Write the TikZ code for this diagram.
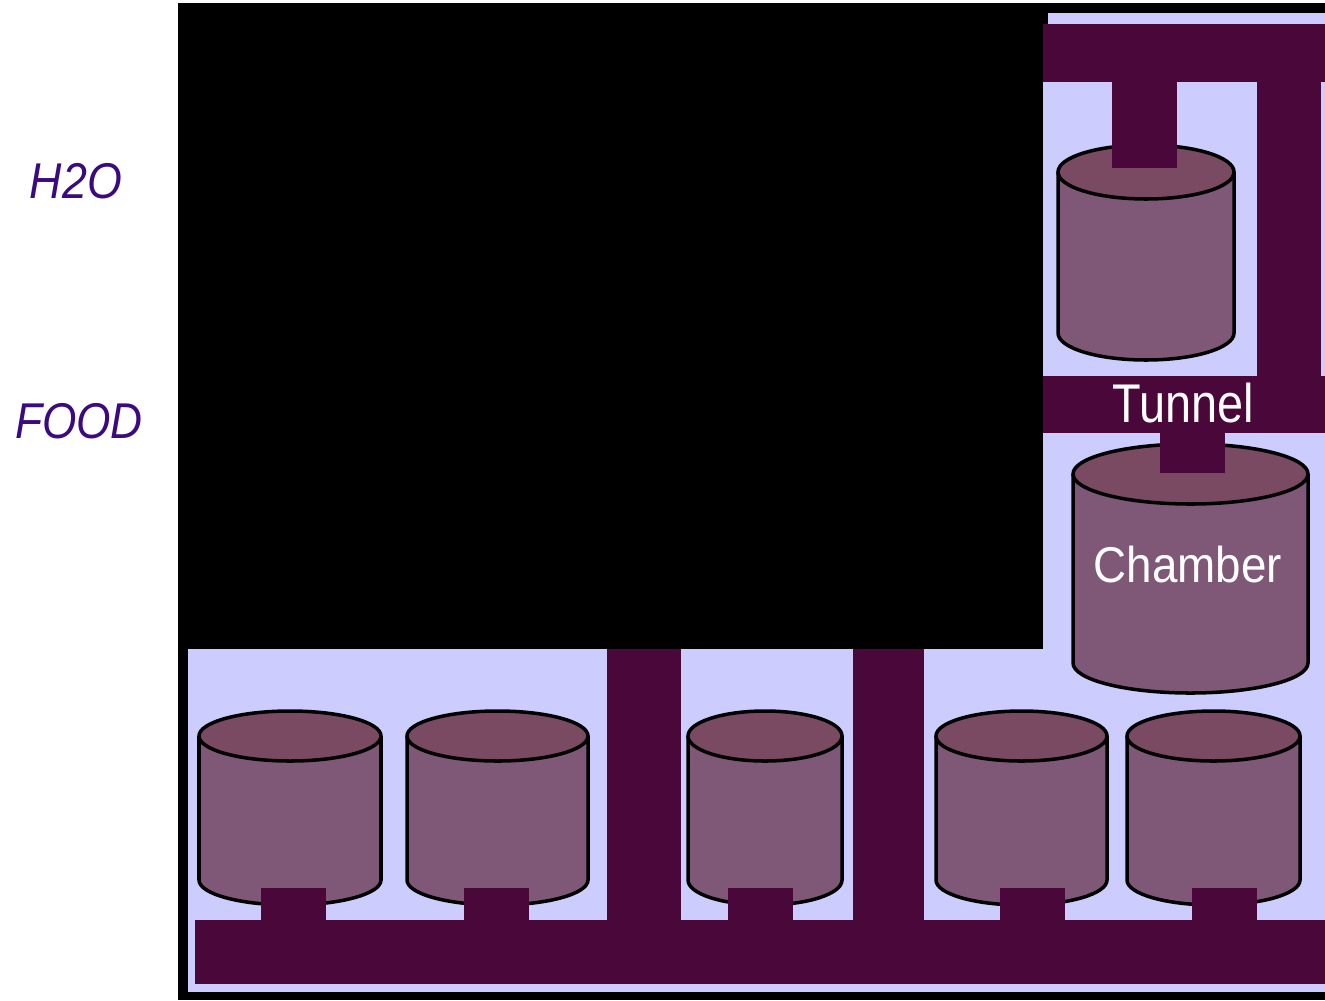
\documentclass[tikz,border=0pt]{standalone}
\usepackage{fontspec}
\setmainfont{Liberation Sans}
\usepackage{graphicx}
\definecolor{darkp}{HTML}{4A083A}
\definecolor{sidec}{HTML}{7F5878}
\definecolor{topc}{HTML}{7A4A62}
\definecolor{lav}{HTML}{CCCCFF}
\definecolor{labc}{HTML}{3B0A80}
\newcommand\drum[5]{% xl xr ry yt yb
  \pgfmathsetmacro\rx{(#2-#1)/2}
  \pgfmathsetmacro\cx{(#1+#2)/2}
  \fill[sidec] (#1,#4) -- (#1,#5) arc[start angle=180,end angle=0,x radius=\rx,y radius=#3] -- (#2,#4) -- cycle;
  \draw[outl] (#1,#4) -- (#1,#5) arc[start angle=180,end angle=0,x radius=\rx,y radius=#3] -- (#2,#4);
  \filldraw[outl,fill=topc] (\cx,#4) ellipse[x radius=\rx,y radius=#3];
}
\begin{document}
\begin{tikzpicture}[x=0.01cm,y=-0.01cm,
  outl/.style={draw=black,line width=1pt},
  pipe/.style={fill=darkp},
  lbl/.style={text=labc,font=\itshape\fontsize{14.3}{16}\selectfont,anchor=base,inner sep=0pt},
  wlbl/.style={text=white,anchor=base,inner sep=0pt}]
\useasboundingbox[fill=white] (0,0) rectangle (1325,1000);
% frame
\fill[black] (178,3) rectangle (1325,1000);
\fill[lav] (188,13) rectangle (1325,992);
\fill[black] (178,3) rectangle (1043,649);
\fill[black] (1043,3) rectangle (1048,24);
% top pipes
\fill[pipe] (1043,24) rectangle (1325,82);
\fill[pipe] (1257,82) rectangle (1321,376);
% cylinders
\drum{1058}{1234}{27}{172}{333}
\drum{1073}{1308}{30}{474}{663}
\drum{199}{381}{25}{736}{880}
\drum{407}{588}{25}{736}{880}
\drum{688}{842}{25}{736}{880}
\drum{936}{1107}{25}{736}{880}
\drum{1127}{1300}{25}{736}{880}
% stubs and pipes
\fill[pipe] (1112,82) rectangle (1177,168);
\fill[pipe] (1043,376) rectangle (1325,433);
\fill[pipe] (1160,433) rectangle (1225,473);
\fill[pipe] (195,920) rectangle (1325,984);
\fill[pipe] (607,649) rectangle (681,920);
\fill[pipe] (853,649) rectangle (924,920);
\foreach \a in {261,464,728,1000,1192}{\fill[pipe] (\a,888) rectangle ++(65,32);}
% labels
\node[wlbl,font=\fontsize{15.5}{18}\selectfont] (tunnel) at (1183,422) {\scalebox{0.86}[1]{Tunnel}};
\node[wlbl,font=\fontsize{14.3}{17}\selectfont] (chamber) at (1188,582) {\scalebox{0.91}[1]{Chamber}};
\node[lbl] (h2o) at (76,198) {\scalebox{0.89}[1]{H2O}};
\node[lbl] (food) at (79,438) {\scalebox{0.88}[1]{FOOD}};
\end{tikzpicture}
\end{document}
